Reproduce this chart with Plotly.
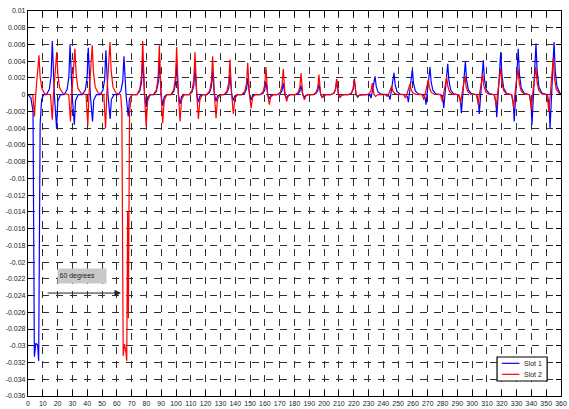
import plotly.graph_objects as go

# ---------------- data ----------------
slot1_x = [0, 2.0, 3.4, 4.3, 5.3, 6.5, 7.2, 8.2, 9.2, 10.5,
           12.4, 14.4, 15.6, 16.4, 17.8, 19.3, 20.1, 21.9,
           24.4, 26.4, 27.6, 28.4, 29.8, 31.3, 32.1, 33.9,
           36.7, 38.7, 39.9, 40.7, 42.1, 43.6, 44.4, 46.2,
           48.6, 50.6, 51.8, 52.6, 54.0, 55.5, 56.3, 58.1,
           60.8, 62.8, 64.0, 64.8, 66.2, 67.7, 68.5, 70.3,
           73.5, 75.5, 76.7, 77.5, 78.7, 79.8, 80.8, 82.5,
           84.7, 86.7, 87.9, 88.7, 89.9, 91.0, 92.0, 93.7,
           96.4, 98.4, 99.6, 100.4, 101.6, 102.7, 103.7, 105.4,
           108.8, 110.8, 112.0, 112.8, 114.0, 115.1, 116.1, 117.8,
           120.7, 122.7, 123.9, 124.7, 125.9, 127.0, 128.0, 129.7,
           132.4, 134.4, 135.6, 136.4, 137.6, 138.7, 139.7, 141.4,
           144.4, 146.4, 147.6, 148.4, 149.6, 150.7, 151.7, 153.4,
           156.7, 158.7, 159.9, 160.7, 161.9, 163.0, 164.0, 165.7,
           168.4, 170.4, 171.6, 172.4, 173.6, 174.7, 175.7, 177.4,
           180.4, 182.4, 183.6, 184.4, 185.6, 186.7, 187.7, 189.4,
           192.5, 194.5, 195.7, 196.5, 197.7, 198.8, 199.8, 201.5,
           204.5, 206.5, 207.7, 208.5, 209.7, 210.8, 211.8, 213.5,
           216.4, 218.4, 219.6, 220.4, 221.6, 222.7, 223.7, 225.4,
           229.9, 231.1, 231.7, 234.4, 235.2, 236.4, 238.4,
           242.7, 243.9, 244.5, 247.2, 248.0, 249.2, 251.2,
           255.1, 256.3, 256.9, 259.6, 260.4, 261.6, 263.6,
           267.0, 268.2, 268.8, 271.5, 272.3, 273.5, 275.5,
           279.0, 280.2, 280.8, 283.5, 284.3, 285.5, 287.5,
           290.9, 292.1, 292.7, 295.4, 296.2, 297.4, 299.4,
           303.0, 304.2, 304.8, 307.5, 308.3, 309.5, 311.5,
           314.8, 316.0, 316.6, 319.3, 320.1, 321.3, 323.3,
           326.6, 327.8, 328.4, 331.1, 331.9, 333.1, 335.1,
           338.6, 339.8, 340.4, 343.1, 343.9, 345.1, 347.1,
           350.8, 352.0, 352.6, 355.3, 356.1, 357.3, 359.3, 360]
slot1_y = [0, -0.0004, -0.002, -0.0313, -0.0297, -0.0299, -0.0318, -0.0035, -0.0006, 0,
           0, 0.00064, 0.00224, 0.0064, 0, -0.0040, -0.0008, 0,
           0, 0.0006, 0.0021, 0.0060, 0, -0.0036, -0.00072, 0,
           0, 0.00056, 0.00196, 0.0056, 0, -0.0032, -0.00064, 0,
           0, 0.00053, 0.00186, 0.0053, 0, -0.0029, -0.00058, 0,
           0, 0.00046, 0.00161, 0.0046, 0, -0.0026, -0.00052, 0,
           0, 0.00043, 0.0015, 0.0043, 0, -0.0015, -0.0003, 0,
           0, 0.0004, 0.0014, 0.0040, 0, -0.0013, -0.00026, 0,
           0, 0.00036, 0.00126, 0.0036, 0, -0.0011, -0.00022, 0,
           0, 0.00032, 0.00112, 0.0032, 0, -0.0009, -0.00018, 0,
           0, 0.00028, 0.00098, 0.0028, 0, -0.0008, -0.00016, 0,
           0, 0.00024, 0.00084, 0.0024, 0, -0.0007, -0.00014, 0,
           0, 0.0002, 0.0007, 0.0020, 0, -0.0006, -0.00012, 0,
           0, 0.00016, 0.00056, 0.0016, 0, -0.0005, -0.0001, 0,
           0, 0.00014, 0.00049, 0.0014, 0, -0.0004, -0.00008, 0,
           0, 0.00011, 0.00039, 0.0011, 0, -0.0003, -0.00006, 0,
           0, 0.00013, 0.00046, 0.0013, 0, -0.0003, -0.00006, 0,
           0, 0.00017, 0.0006, 0.0017, 0, -0.0003, -0.00006, 0,
           0, 0.00019, 0.00067, 0.0019, 0, -0.0003, -0.00006, 0,
           0, -0.00012, -0.0004, 0.0022, 0.00099, 0.00033, 0.00007,
           0, -0.00018, -0.0006, 0.0026, 0.00117, 0.00039, 0.00008,
           0, -0.00027, -0.0009, 0.0030, 0.00135, 0.00045, 0.00009,
           0, -0.00036, -0.0012, 0.0033, 0.00149, 0.0005, 0.0001,
           0, -0.00048, -0.0016, 0.0037, 0.00167, 0.00056, 0.00011,
           0, -0.00066, -0.0022, 0.0040, 0.0018, 0.0006, 0.00012,
           0, -0.00069, -0.0023, 0.0041, 0.00185, 0.00062, 0.00012,
           0, -0.00081, -0.0027, 0.0051, 0.0023, 0.00077, 0.00015,
           0, -0.00096, -0.0032, 0.0055, 0.00248, 0.00083, 0.00017,
           0, -0.00108, -0.0036, 0.0061, 0.00275, 0.00092, 0.00018,
           0, -0.0012, -0.0040, 0.0063, 0.00284, 0.00095, 0.00019, 0.0001]

slot2_x = [0, 3.2, 4.4, 5.2, 7.4, 8.2, 9.4, 11.4,
           15.2, 16.4, 17.2, 19.4, 20.2, 21.4, 23.4,
           27.5, 28.7, 29.5, 31.7, 32.5, 33.7, 35.7,
           39.2, 40.4, 41.2, 43.4, 44.2, 45.4, 47.4,
           51.2, 52.4, 53.2, 55.4, 56.2, 57.4, 59.4,
           62.6, 63.4, 64.3, 65.2, 66.0, 66.7, 67.3, 67.8, 68.6, 70.0,
           73.5, 75.5, 76.7, 77.5, 78.7, 79.8, 80.8, 82.5,
           84.7, 86.7, 87.9, 88.7, 89.9, 91.0, 92.0, 93.7,
           96.4, 98.4, 99.6, 100.4, 101.6, 102.7, 103.7, 105.4,
           108.8, 110.8, 112.0, 112.8, 114.0, 115.1, 116.1, 117.8,
           120.7, 122.7, 123.9, 124.7, 125.9, 127.0, 128.0, 129.7,
           132.4, 134.4, 135.6, 136.4, 137.6, 138.7, 139.7, 141.4,
           144.4, 146.4, 147.6, 148.4, 149.6, 150.7, 151.7, 153.4,
           156.7, 158.7, 159.9, 160.7, 161.9, 163.0, 164.0, 165.7,
           168.4, 170.4, 171.6, 172.4, 173.6, 174.7, 175.7, 177.4,
           180.4, 182.4, 183.6, 184.4, 185.6, 186.7, 187.7, 189.4,
           192.5, 194.5, 195.7, 196.5, 197.7, 198.8, 199.8, 201.5,
           204.5, 206.5, 207.7, 208.5, 209.7, 210.8, 211.8, 213.5,
           216.4, 218.4, 219.6, 220.4, 221.6, 222.7, 223.7, 225.4,
           228.5, 230.5, 231.7, 232.5, 233.7, 234.8, 235.8, 237.5,
           241.4, 242.6, 243.4, 245.6, 246.4, 247.6, 249.6,
           253.8, 255.0, 255.8, 258.0, 258.8, 260.0, 262.0,
           266.2, 267.4, 268.2, 270.4, 271.2, 272.4, 274.4,
           278.6, 279.8, 280.6, 282.8, 283.6, 284.8, 286.8,
           290.9, 292.1, 292.9, 295.1, 295.9, 297.1, 299.1,
           302.9, 304.1, 304.9, 307.1, 307.9, 309.1, 311.1,
           315.1, 316.3, 317.1, 319.3, 320.1, 321.3, 323.3,
           326.8, 328.0, 328.8, 331.0, 331.8, 333.0, 335.0,
           338.8, 340.0, 340.8, 343.0, 343.8, 345.0, 347.0,
           350.6, 351.8, 352.6, 354.8, 355.6, 356.8, 358.8, 360]
slot2_y = [0, 0, -0.0026, 0, 0.0047, 0.0021, 0.0007, 0.0001,
           0, -0.0030, 0, 0.0051, 0.0023, 0.0008, 0.0002,
           0, -0.0032, 0, 0.0055, 0.0025, 0.0008, 0.0002,
           0, -0.0037, 0, 0.0059, 0.0027, 0.0009, 0.0002,
           0, -0.0040, 0, 0.0063, 0.0028, 0.0009, 0.0002,
           0, -0.002, -0.0312, -0.0298, -0.0305, -0.0318, -0.014, -0.0267, -0.002, 0,
           0, 0.00064, 0.00224, 0.0064, 0, -0.0038, -0.00076, 0,
           0, 0.00059, 0.00207, 0.0059, 0, -0.0034, -0.00068, 0,
           0, 0.00057, 0.0020, 0.0057, 0, -0.0032, -0.00064, 0,
           0, 0.00051, 0.00179, 0.0051, 0, -0.0029, -0.00058, 0,
           0, 0.00046, 0.00161, 0.0046, 0, -0.0028, -0.00056, 0,
           0, 0.00042, 0.00147, 0.0042, 0, -0.0023, -0.00046, 0,
           0, 0.00038, 0.00133, 0.0038, 0, -0.0016, -0.00032, 0,
           0, 0.00033, 0.00116, 0.0033, 0, -0.0012, -0.00024, 0,
           0, 0.00031, 0.00109, 0.0031, 0, -0.0008, -0.00016, 0,
           0, 0.00026, 0.00091, 0.0026, 0, -0.0006, -0.00012, 0,
           0, 0.00024, 0.00084, 0.0024, 0, -0.0004, -0.00008, 0,
           0, 0.00019, 0.00067, 0.0019, 0, -0.0003, -0.00006, 0,
           0, 0.00018, 0.00063, 0.0018, 0, -0.0002, -0.00004, 0,
           0, 0.00014, 0.00049, 0.0014, 0, -0.0002, -0.00004, 0,
           0, -0.0002, 0, 0.0010, 0.00045, 0.00015, 0.00003,
           0, -0.0004, 0, 0.0013, 0.00059, 0.0002, 0.00004,
           0, -0.0006, 0, 0.0018, 0.00081, 0.00027, 0.00005,
           0, -0.0008, 0, 0.0021, 0.00095, 0.00032, 0.00006,
           0, -0.0010, 0, 0.0022, 0.00099, 0.00033, 0.00007,
           0, -0.0012, 0, 0.0024, 0.00108, 0.00036, 0.00007,
           0, -0.0014, 0, 0.0032, 0.00144, 0.00048, 0.0001,
           0, -0.0016, 0, 0.0031, 0.0014, 0.00047, 0.00009,
           0, -0.0018, 0, 0.0033, 0.00149, 0.0005, 0.0001,
           0, -0.0020, 0, 0.0044, 0.00198, 0.00066, 0.00013, 0]

x_ticks = list(range(0, 361, 10))
y_ticks = [0.01, 0.008, 0.006, 0.004, 0.002, 0, -0.002, -0.004, -0.006, -0.008, -0.01,
           -0.012, -0.014, -0.016, -0.018, -0.02, -0.022, -0.024, -0.026, -0.028, -0.03,
           -0.032, -0.034, -0.036]
y_tick_text = ["0.01", "0.008", "0.006", "0.004", "0.002", "0", "-0.002", "-0.004", "-0.006",
               "-0.008", "-0.01", "-0.012", "-0.014", "-0.016", "-0.018", "-0.02", "-0.022",
               "-0.024", "-0.026", "-0.028", "-0.03", "-0.032", "-0.034", "-0.036"]
series_names = ["Slot 1", "Slot 2"]
series_colors = ["#0000ff", "#ff0000"]
note_text = "60 degrees"
note_pos = (36.3, -0.02167)
arrow_start = (12.2, -0.0237)
arrow_end = (62.8, -0.0237)

FONT = "Liberation Sans, Arial, sans-serif"

fig = go.Figure()
fig.add_trace(go.Scatter(x=slot1_x, y=slot1_y, mode="lines", name=series_names[0],
                         line=dict(color=series_colors[0], width=1.2)))
fig.add_trace(go.Scatter(x=slot2_x, y=slot2_y, mode="lines", name=series_names[1],
                         line=dict(color=series_colors[1], width=1.2)))

axis_common = dict(showline=True, linecolor="black", linewidth=1.2, mirror="ticks",
                   ticks="inside", ticklen=5, tickcolor="black", showgrid=True,
                   gridcolor="#303030", gridwidth=1, griddash="7px,7px", zeroline=False,
                   tickfont=dict(family=FONT, size=7, color="#222"))

fig.update_xaxes(range=[0, 360], tickvals=x_ticks, **axis_common)
fig.update_yaxes(range=[-0.036, 0.01], tickvals=y_ticks, ticktext=y_tick_text, **axis_common)

# arrow + note
fig.add_annotation(x=arrow_end[0], y=arrow_end[1], ax=arrow_start[0], ay=arrow_start[1],
                   xref="x", yref="y", axref="x", ayref="y", text="", showarrow=True,
                   arrowhead=2, arrowsize=1.3, arrowwidth=1, arrowcolor="#222")
fig.add_annotation(x=note_pos[0], y=note_pos[1], xref="x", yref="y", text=note_text,
                   showarrow=False, bgcolor="#c8c8c8", align="left", width=45, height=11,
                   borderpad=1.5, font=dict(family=FONT, size=7, color="#222"))

# legend box (drawn to match the compact MATLAB legend)
fig.add_shape(type="rect", xref="paper", yref="paper", x0=0.880, x1=0.974, y0=0.039, y1=0.1013,
              line=dict(color="black", width=1.2), fillcolor="white", layer="above")
leg_rows = [0.0849, 0.0564]
for name, color, yy in zip(series_names, series_colors, leg_rows):
    fig.add_shape(type="line", xref="paper", yref="paper", x0=0.889, x1=0.922, y0=yy, y1=yy,
                  line=dict(color=color, width=1.2), layer="above")
    fig.add_annotation(x=0.968, y=yy, xref="paper", yref="paper", text=name, showarrow=False,
                       xanchor="right", yanchor="middle",
                       font=dict(family=FONT, size=7, color="#222"))

fig.update_layout(width=569, height=409, margin=dict(l=28, r=8, t=11, b=13, autoexpand=False),
                  paper_bgcolor="white", plot_bgcolor="white", showlegend=False)

fig.write_html("out.html")
